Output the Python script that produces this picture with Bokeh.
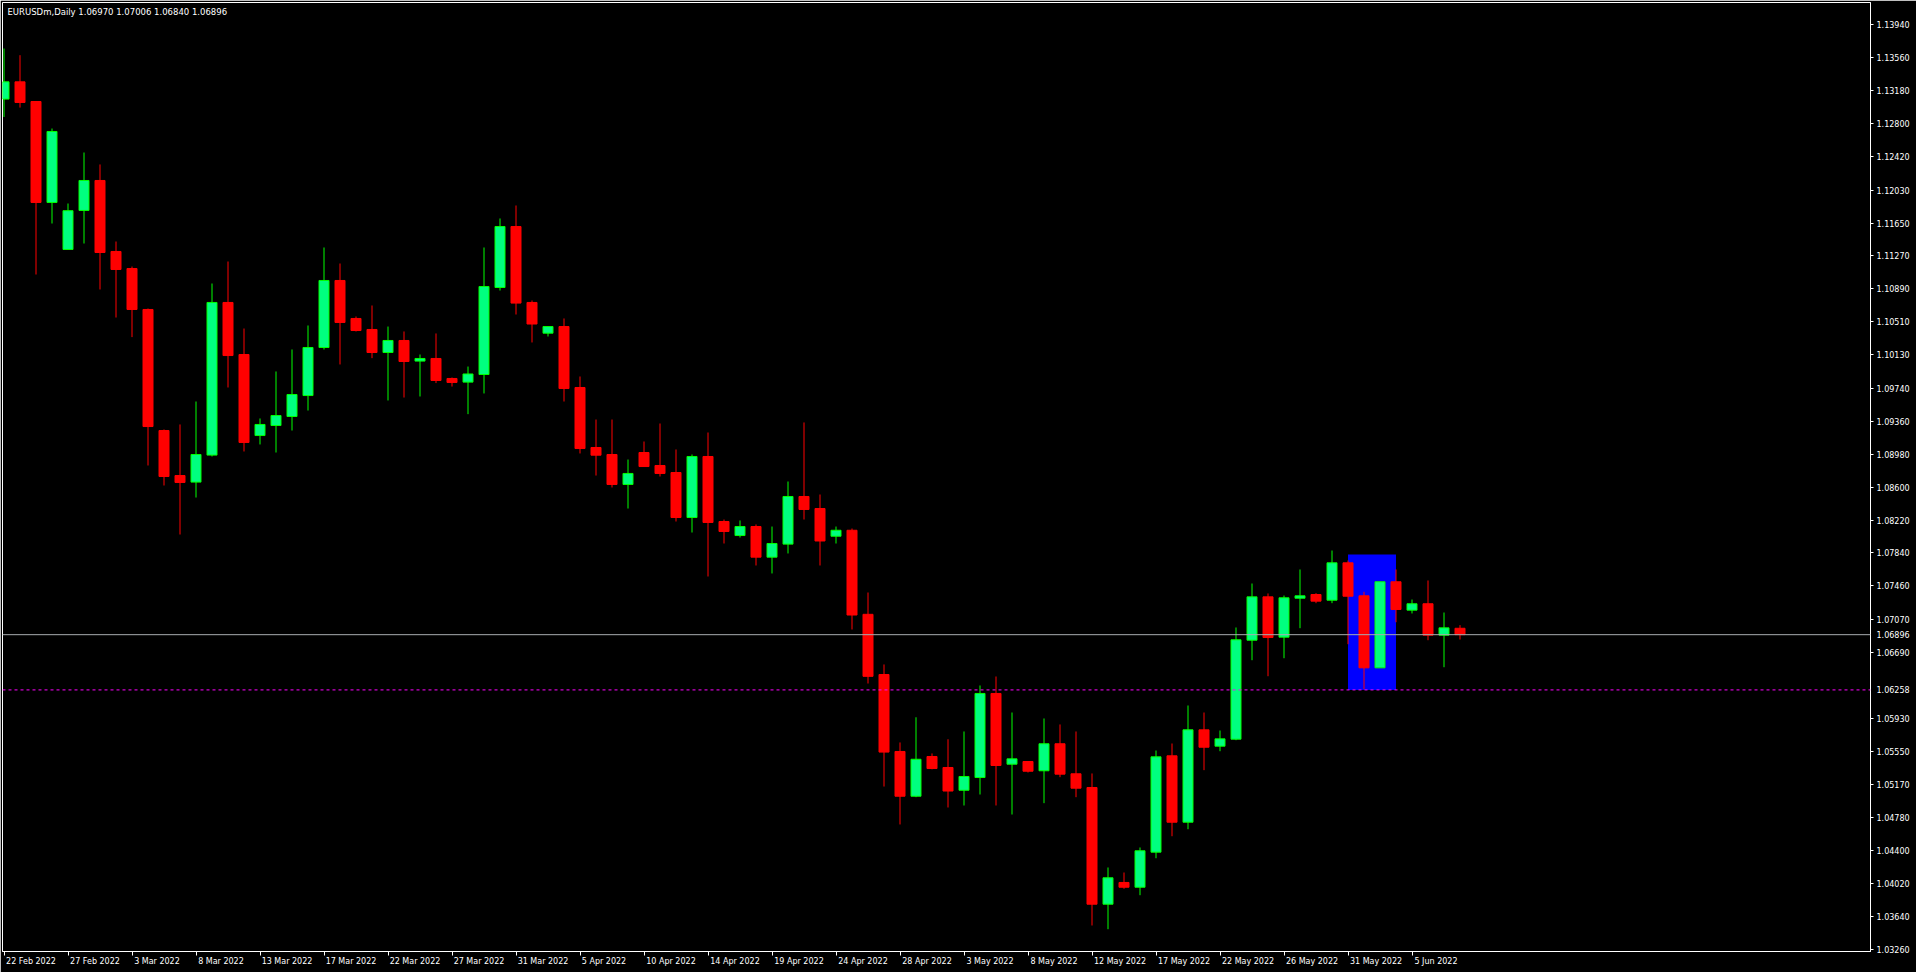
from bokeh.plotting import figure
from bokeh.models import (Range1d, FixedTicker, NumeralTickFormatter, Label, Span,
                          ColumnDataSource)
from bokeh.embed import file_html
from bokeh.resources import INLINE

# ---------------- data ----------------
bar_index = list(range(92))

open_ = [1.13082, 1.13281, 1.13054, 1.11888, 1.11345, 1.11796, 1.12142, 1.11322, 1.11125, 1.10652,
         1.09254, 1.08734, 1.08658, 1.08970, 1.10733, 1.10132, 1.09196, 1.09312, 1.09416, 1.09658,
         1.10213, 1.10987, 1.10548, 1.10421, 1.10155, 1.10294, 1.10056, 1.10086, 1.09855, 1.09813,
         1.09901, 1.10906, 1.11610, 1.10733, 1.10378, 1.10455, 1.09751, 1.09058, 1.08977, 1.08631,
         1.09000, 1.08850, 1.08769, 1.08249, 1.08954, 1.08203, 1.08041, 1.08145, 1.07791, 1.07942,
         1.08492, 1.08353, 1.08033, 1.08102, 1.07131, 1.06436, 1.05547, 1.05030, 1.05489, 1.05362,
         1.05099, 1.05246, 1.06217, 1.05400, 1.05431, 1.05324, 1.05636, 1.05289, 1.05131, 1.03783,
         1.04034, 1.03979, 1.04384, 1.05497, 1.04730, 1.05797, 1.05608, 1.05689, 1.06832, 1.07333,
         1.06867, 1.07317, 1.07360, 1.07294, 1.07726, 1.07345, 1.06513, 1.07507, 1.07179, 1.07253,
         1.06890, 1.06970]

high = [1.13666, 1.13589, 1.13060, 1.12742, 1.11876, 1.12465, 1.12327, 1.11437, 1.11148, 1.10663,
        1.09266, 1.09324, 1.09589, 1.10952, 1.11206, 1.10432, 1.09393, 1.09936, 1.10190, 1.10467,
        1.11368, 1.11183, 1.10571, 1.10698, 1.10455, 1.10398, 1.10132, 1.10375, 1.09866, 1.09993,
        1.11368, 1.11703, 1.11853, 1.10756, 1.10455, 1.10548, 1.09878, 1.09381, 1.09381, 1.08919,
        1.09127, 1.09335, 1.09035, 1.08977, 1.09231, 1.08226, 1.08215, 1.08169, 1.08145, 1.08665,
        1.09347, 1.08515, 1.08145, 1.08122, 1.07383, 1.06552, 1.05651, 1.05942, 1.05524, 1.05688,
        1.05778, 1.06309, 1.06413, 1.05997, 1.05431, 1.05928, 1.05859, 1.05778, 1.05293, 1.04207,
        1.04149, 1.04438, 1.05558, 1.05639, 1.06078, 1.05997, 1.05789, 1.06979, 1.07487, 1.07372,
        1.07348, 1.07649, 1.07375, 1.07868, 1.07753, 1.07391, 1.07507, 1.07649, 1.07302, 1.07522,
        1.07152, 1.07006]

low = [1.12875, 1.12984, 1.11056, 1.11645, 1.11340, 1.11414, 1.10883, 1.10559, 1.10333, 1.08850,
       1.08619, 1.08053, 1.08480, 1.08954, 1.09751, 1.09012, 1.09093, 1.09000, 1.09254, 1.09485,
       1.10190, 1.10017, 1.10398, 1.10090, 1.09601, 1.09635, 1.09647, 1.09802, 1.09762, 1.09443,
       1.09682, 1.10871, 1.10594, 1.10271, 1.10340, 1.09589, 1.08989, 1.08734, 1.08596, 1.08353,
       1.08838, 1.08723, 1.08203, 1.08076, 1.07568, 1.07949, 1.08018, 1.07695, 1.07603, 1.07834,
       1.08226, 1.07695, 1.07949, 1.06956, 1.06332, 1.05142, 1.04704, 1.05019, 1.05341, 1.04900,
       1.04923, 1.05050, 1.04923, 1.04819, 1.05304, 1.04950, 1.05250, 1.05019, 1.03537, 1.03494,
       1.03961, 1.03887, 1.04314, 1.04568, 1.04649, 1.05331, 1.05550, 1.05677, 1.06601, 1.06416,
       1.06624, 1.06971, 1.07260, 1.07260, 1.06786, 1.06266, 1.06551, 1.07040, 1.07141, 1.06832,
       1.06520, 1.06840]

close = [1.13281, 1.13043, 1.11888, 1.12708, 1.11793, 1.12142, 1.11310, 1.11114, 1.10652, 1.09300,
         1.08723, 1.08654, 1.08977, 1.10733, 1.10120, 1.09116, 1.09324, 1.09427, 1.09670, 1.10213,
         1.10987, 1.10502, 1.10409, 1.10155, 1.10294, 1.10051, 1.10086, 1.09832, 1.09809, 1.09907,
         1.10917, 1.11610, 1.10726, 1.10484, 1.10455, 1.09739, 1.09046, 1.08969, 1.08631, 1.08758,
         1.08838, 1.08758, 1.08249, 1.08954, 1.08192, 1.08088, 1.08145, 1.07791, 1.07949, 1.08492,
         1.08342, 1.07978, 1.08102, 1.07123, 1.06415, 1.05540, 1.05030, 1.05457, 1.05350, 1.05090,
         1.05258, 1.06217, 1.05385, 1.05462, 1.05319, 1.05636, 1.05285, 1.05123, 1.03783, 1.04088,
         1.03979, 1.04400, 1.05485, 1.04730, 1.05797, 1.05596, 1.05693, 1.06837, 1.07333, 1.06863,
         1.07322, 1.07345, 1.07283, 1.07726, 1.07340, 1.06513, 1.07507, 1.07187, 1.07253, 1.06890,
         1.06975, 1.06896]

date_labels = ["22 Feb 2022", "27 Feb 2022", "3 Mar 2022", "8 Mar 2022", "13 Mar 2022",
               "17 Mar 2022", "22 Mar 2022", "27 Mar 2022", "31 Mar 2022", "5 Apr 2022",
               "10 Apr 2022", "14 Apr 2022", "19 Apr 2022", "24 Apr 2022", "28 Apr 2022",
               "3 May 2022", "8 May 2022", "12 May 2022", "17 May 2022", "22 May 2022",
               "26 May 2022", "31 May 2022", "5 Jun 2022"]
bars_per_date_label = 4

price_ticks = [1.13940, 1.13560, 1.13180, 1.12800, 1.12420, 1.12030, 1.11650, 1.11270, 1.10890,
               1.10510, 1.10130, 1.09740, 1.09360, 1.08980, 1.08600, 1.08220, 1.07840, 1.07460,
               1.07070, 1.06690, 1.06310, 1.05930, 1.05550, 1.05170, 1.04780, 1.04400, 1.04020,
               1.03640, 1.03260]

bid_price = 1.06896
level_price = 1.06258
zone_bars = [84, 87]
zone_prices = [1.06258, 1.07822]
title_text = "EURUSDm,Daily  1.06970 1.07006 1.06840 1.06896"

# ---------------- styling ----------------
BULL_FILL = "#00FF7F"
BULL_LINE = "#00FF00"
BEAR = "#FF0000"
FONT = "DejaVu Sans"
BAR_PX = 16          # pixel distance between two bars
DATE_FONT_PX = 8
# DejaVu Sans advance widths (em) of the characters used in the date labels
ADV = {" ": 0.318, "F": 0.575, "e": 0.615, "b": 0.635, "M": 0.863, "a": 0.613, "r": 0.411,
       "A": 0.684, "p": 0.635, "y": 0.592, "J": 0.295, "u": 0.634, "n": 0.634}

bull = [c >= o for o, c in zip(open_, close)]
src = ColumnDataSource(dict(
    x=bar_index,
    top=[max(o, c) for o, c in zip(open_, close)],
    bottom=[min(o, c) for o, c in zip(open_, close)],
    high=high,
    low=low,
    fill=[BULL_FILL if b else BEAR for b in bull],
    line=[BULL_LINE if b else BEAR for b in bull],
))

p = figure(width=1916, height=972, output_backend="svg", toolbar_location=None,
           x_range=Range1d(-0.09375, 116.65625), y_range=Range1d(1.0323665, 1.141976),
           y_axis_location="right",
           min_border_left=2, min_border_top=2, min_border_right=46, min_border_bottom=21,
           background_fill_color="black", border_fill_color="black",
           outline_line_color="white", outline_line_width=1)
p.xgrid.grid_line_color = None
p.ygrid.grid_line_color = None

# highlighted zone (drawn behind the candles)
p.quad(left=[zone_bars[0]], right=[zone_bars[1]], bottom=[zone_prices[0]], top=[zone_prices[1]],
       fill_color="#0000FF", line_color=None)

# candles
p.segment(x0="x", y0="low", x1="x", y1="high", line_color="line", line_width=1, source=src)
p.vbar(x="x", width=10 / 16, top="top", bottom="bottom", fill_color="fill",
       line_color="line", line_width=1, source=src)

# horizontal lines
p.add_layout(Span(location=bid_price, dimension="width", line_color="#A8ACB0", line_width=1))
p.add_layout(Span(location=level_price, dimension="width", line_color="#FF00FF", line_width=1,
                  line_dash="3 3"))

# price axis (right): labels on major ticks, visible tick marks on minor ticks
tag_prices = [bid_price, level_price]
shown_ticks = [t for t in price_ticks if all(abs(t - q) > 0.0008 for q in tag_prices)]
yax = p.yaxis[0]
yax.ticker = FixedTicker(ticks=shown_ticks + tag_prices, minor_ticks=shown_ticks)
yax.formatter = NumeralTickFormatter(format="0.00000")
yax.major_label_overrides = {q: f"{q:.5f}" for q in tag_prices}
yax.axis_line_color = "white"
yax.major_tick_line_color = None
yax.major_tick_out = 3
yax.major_tick_in = 0
yax.minor_tick_line_color = "white"
yax.minor_tick_out = 3
yax.minor_tick_in = 0
yax.major_label_text_color = "white"
yax.major_label_text_font = FONT
yax.major_label_text_font_size = "8px"
yax.major_label_standoff = 3


# date axis (bottom): tick marks on the dates (minor ticks), texts left-aligned after them
def half_width_bars(text):
    w = sum(ADV.get(ch, 0.636) for ch in text) * DATE_FONT_PX
    return round(2 + w / 2) / BAR_PX


date_ticks = [i * bars_per_date_label for i in range(len(date_labels))]
label_centers = [t + half_width_bars(lab) for t, lab in zip(date_ticks, date_labels)]
xax = p.xaxis[0]
xax.ticker = FixedTicker(ticks=label_centers, minor_ticks=date_ticks)
xax.major_label_overrides = {c: lab for c, lab in zip(label_centers, date_labels)}
xax.axis_line_color = "white"
xax.major_tick_line_color = None
xax.major_tick_out = 4
xax.major_tick_in = 0
xax.minor_tick_line_color = "white"
xax.minor_tick_out = 4
xax.minor_tick_in = 0
xax.major_label_text_color = "white"
xax.major_label_text_font = FONT
xax.major_label_text_font_size = f"{DATE_FONT_PX}px"
xax.major_label_standoff = 1

# header text
p.add_layout(Label(x=5, y=945, x_units="screen", y_units="screen", text=title_text,
                   text_color="white", text_font=FONT, text_font_size="8.5px",
                   text_baseline="top"))

open("out.html", "w").write(file_html(p, INLINE))
